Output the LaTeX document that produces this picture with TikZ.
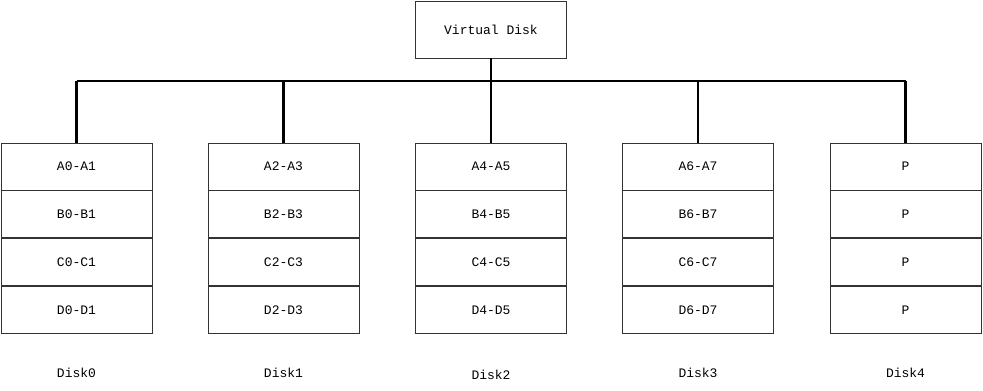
\documentclass[tikz,border=0pt]{standalone}
\usepackage{fontspec}
\setmonofont{Liberation Mono}
\usepackage{tikz}
\usetikzlibrary{positioning}
\definecolor{cellDraw}{HTML}{333333}
\definecolor{busCol}{HTML}{000000}

\begin{document}
\begin{tikzpicture}[
  x=1pt, y=1pt,
  font=\ttfamily\fontsize{13}{15}\selectfont,
  node distance=0pt,
  cell/.style={draw=cellDraw, line width=0.9pt, fill=white,
               minimum width=151pt, minimum height=47pt, inner sep=0pt},
  vdbox/.style={cell, minimum height=57pt},
  bus/.style={line width=2.2pt, draw=busCol},
  disklbl/.style={inner sep=1pt},
]
\useasboundingbox (0,0) rectangle (983,391);

% ---- Virtual disk ----
\node[vdbox] (vd) at (491,361.5) {Virtual Disk};

% ---- Disk0 ----
\node[cell] (a0) at (76.5,224.5) {A0-A1};
\node[cell, below=of a0] (b0) {B0-B1};
\node[cell, below=of b0] (c0) {C0-C1};
\node[cell, below=of c0] (d0) {D0-D1};

% ---- Disk1 ----
\node[cell] (a1) at (283.5,224.5) {A2-A3};
\node[cell, below=of a1] (b1) {B2-B3};
\node[cell, below=of b1] (c1) {C2-C3};
\node[cell, below=of c1] (d1) {D2-D3};

% ---- Disk2 ----
\node[cell] (a2) at (491,224.5) {A4-A5};
\node[cell, below=of a2] (b2) {B4-B5};
\node[cell, below=of b2] (c2) {C4-C5};
\node[cell, below=of c2] (d2) {D4-D5};

% ---- Disk3 ----
\node[cell] (a3) at (698,224.5) {A6-A7};
\node[cell, below=of a3] (b3) {B6-B7};
\node[cell, below=of b3] (c3) {C6-C7};
\node[cell, below=of c3] (d3) {D6-D7};

% ---- Disk4 (parity) ----
\node[cell] (a4) at (905.5,224.5) {P};
\node[cell, below=of a4] (b4) {P};
\node[cell, below=of b4] (c4) {P};
\node[cell, below=of c4] (d4) {P};

% ---- Disk names ----
\node[disklbl] (n0) at (76.5,18) {Disk0};
\node[disklbl] (n1) at (283.5,18) {Disk1};
\node[disklbl] (n2) at (491,16) {Disk2};
\node[disklbl] (n3) at (698,18) {Disk3};
\node[disklbl] (n4) at (905.5,18) {Disk4};

% ---- Bus ----
\coordinate (busL) at (a0.north |- 0,310);
\coordinate (busR) at (a4.north |- 0,310);
\coordinate (busM) at (vd.south |- 0,310);
\draw[bus] (busL) -- (busR);
\draw[bus] (vd.south) -- (busM);
\draw[bus] (busL) -- (a0.north);
\draw[bus] (a1.north |- busL) -- (a1.north);
\draw[bus] (busM) -- (a2.north);
\draw[bus] (a3.north |- busL) -- (a3.north);
\draw[bus] (busR) -- (a4.north);

\end{tikzpicture}
\end{document}
